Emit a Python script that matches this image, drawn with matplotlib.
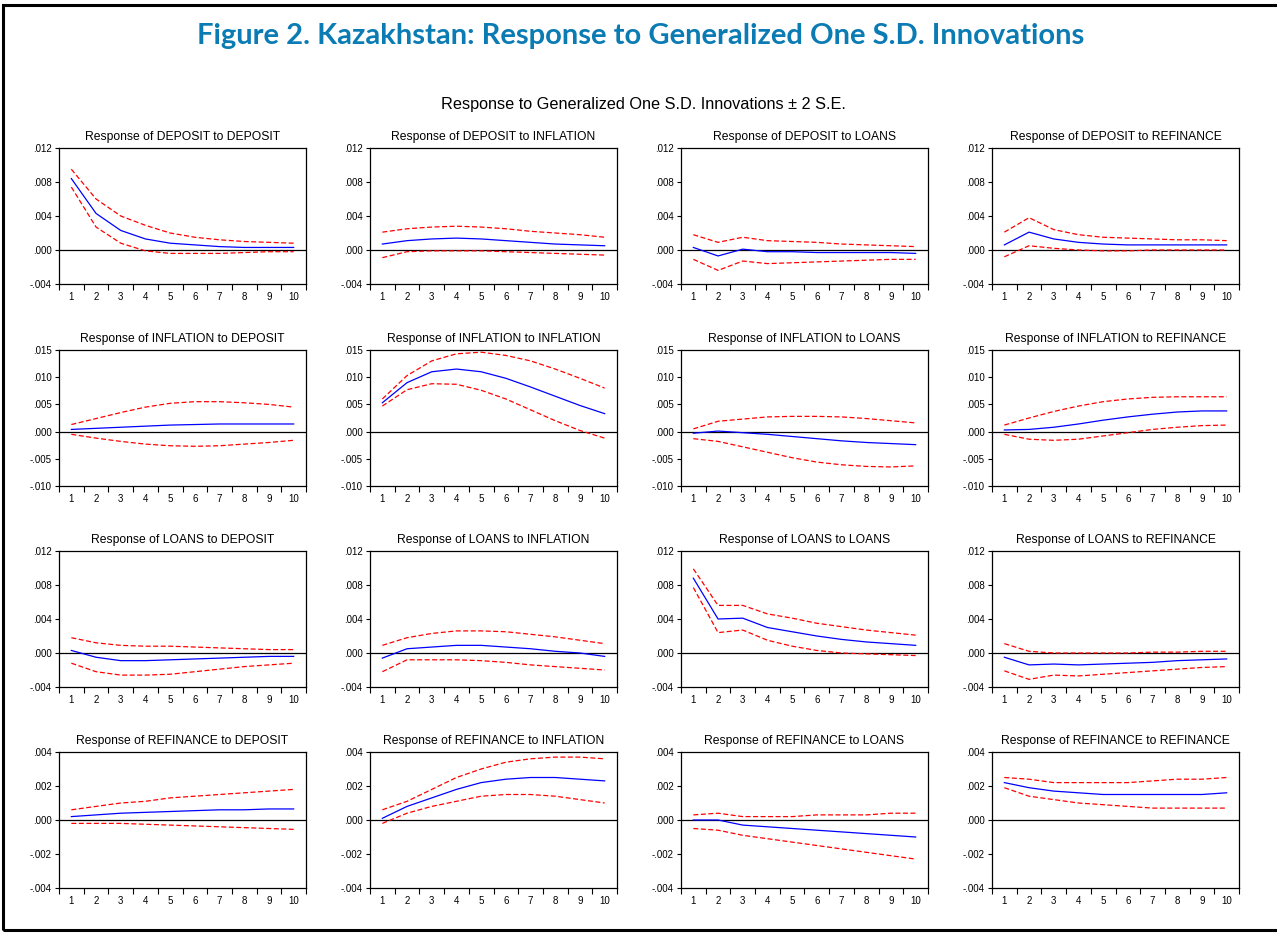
import matplotlib
matplotlib.use("Agg")
import matplotlib.pyplot as plt
from matplotlib.patches import Rectangle
from matplotlib.ticker import FuncFormatter, FixedLocator

# --------------------------------------------------------------------------
# Impulse responses (periods 1..10): point estimate and +/- 2 S.E. bands
# --------------------------------------------------------------------------
periods = [1, 2, 3, 4, 5, 6, 7, 8, 9, 10]
variables = ["DEPOSIT", "INFLATION", "LOANS", "REFINANCE"]

# y-axis range and tick step for each responding variable (row)
row_limits = {
    "DEPOSIT": (-0.004, 0.012, 0.004),
    "INFLATION": (-0.010, 0.015, 0.005),
    "LOANS": (-0.004, 0.012, 0.004),
    "REFINANCE": (-0.004, 0.004, 0.002),
}

# DEPOSIT responses
dep_dep = [0.0084, 0.0043, 0.0023, 0.0013, 0.0008, 0.0006, 0.0004, 0.0003, 0.0003, 0.0003]
dep_dep_hi = [0.0095, 0.0060, 0.0040, 0.0029, 0.0020, 0.0015, 0.0012, 0.0010, 0.0009, 0.0008]
dep_dep_lo = [0.0074, 0.0027, 0.0008, -0.0001, -0.0004, -0.0004, -0.0004, -0.0003, -0.0002, -0.0002]

dep_inf = [0.0007, 0.0011, 0.0013, 0.0014, 0.0013, 0.0011, 0.0009, 0.0007, 0.0006, 0.0005]
dep_inf_hi = [0.0021, 0.0025, 0.0027, 0.0028, 0.0027, 0.0025, 0.0022, 0.0020, 0.0018, 0.0015]
dep_inf_lo = [-0.0009, -0.0002, -0.0001, -0.0001, -0.0001, -0.0002, -0.0003, -0.0004, -0.0005, -0.0006]

dep_loa = [0.0003, -0.0007, 0.0001, -0.0002, -0.0002, -0.0003, -0.0003, -0.0003, -0.0003, -0.0004]
dep_loa_hi = [0.0018, 0.0009, 0.0015, 0.0011, 0.0010, 0.0009, 0.0007, 0.0006, 0.0005, 0.0004]
dep_loa_lo = [-0.0011, -0.0024, -0.0013, -0.0016, -0.0015, -0.0014, -0.0013, -0.0012, -0.0011, -0.0011]

dep_ref = [0.0006, 0.0021, 0.0013, 0.0009, 0.0007, 0.0006, 0.0006, 0.0006, 0.0006, 0.0006]
dep_ref_hi = [0.0021, 0.0038, 0.0024, 0.0018, 0.0015, 0.0014, 0.0013, 0.0012, 0.0012, 0.0011]
dep_ref_lo = [-0.0008, 0.0005, 0.0002, 0.0000, -0.0001, -0.0001, 0.0000, 0.0000, 0.0000, 0.0000]

# INFLATION responses
inf_dep = [0.0004, 0.0006, 0.0008, 0.0010, 0.0012, 0.0013, 0.0014, 0.0014, 0.0014, 0.0014]
inf_dep_hi = [0.0013, 0.0024, 0.0035, 0.0045, 0.0052, 0.0055, 0.0055, 0.0053, 0.0050, 0.0045]
inf_dep_lo = [-0.0005, -0.0012, -0.0018, -0.0023, -0.0026, -0.0027, -0.0026, -0.0023, -0.0020, -0.0016]

inf_inf = [0.0053, 0.0090, 0.0110, 0.0115, 0.0110, 0.0098, 0.0082, 0.0065, 0.0048, 0.0033]
inf_inf_hi = [0.0060, 0.0103, 0.0130, 0.0143, 0.0146, 0.0140, 0.0130, 0.0115, 0.0098, 0.0080]
inf_inf_lo = [0.0047, 0.0077, 0.0088, 0.0087, 0.0076, 0.0060, 0.0040, 0.0020, 0.0002, -0.0012]

inf_loa = [-0.0003, 0.0001, -0.0002, -0.0005, -0.0009, -0.0013, -0.0017, -0.0020, -0.0022, -0.0024]
inf_loa_hi = [0.0005, 0.0019, 0.0023, 0.0027, 0.0028, 0.0028, 0.0027, 0.0024, 0.0020, 0.0016]
inf_loa_lo = [-0.0013, -0.0018, -0.0028, -0.0038, -0.0048, -0.0056, -0.0061, -0.0064, -0.0065, -0.0063]

inf_ref = [0.0003, 0.0004, 0.0008, 0.0014, 0.0021, 0.0027, 0.0032, 0.0036, 0.0038, 0.0038]
inf_ref_hi = [0.0012, 0.0025, 0.0037, 0.0047, 0.0055, 0.0060, 0.0063, 0.0064, 0.0064, 0.0064]
inf_ref_lo = [-0.0005, -0.0014, -0.0016, -0.0014, -0.0008, -0.0002, 0.0004, 0.0008, 0.0011, 0.0012]

# LOANS responses
loa_dep = [0.0003, -0.0005, -0.0009, -0.0009, -0.0008, -0.0007, -0.0006, -0.0005, -0.0004, -0.0004]
loa_dep_hi = [0.0018, 0.0012, 0.0009, 0.0008, 0.0008, 0.0007, 0.0006, 0.0005, 0.0004, 0.0004]
loa_dep_lo = [-0.0012, -0.0022, -0.0026, -0.0026, -0.0025, -0.0022, -0.0019, -0.0016, -0.0014, -0.0012]

loa_inf = [-0.0006, 0.0005, 0.0007, 0.0009, 0.0009, 0.0007, 0.0005, 0.0002, 0.0000, -0.0004]
loa_inf_hi = [0.0009, 0.0018, 0.0023, 0.0026, 0.0026, 0.0025, 0.0022, 0.0019, 0.0015, 0.0011]
loa_inf_lo = [-0.0022, -0.0008, -0.0008, -0.0008, -0.0009, -0.0011, -0.0014, -0.0016, -0.0018, -0.0020]

loa_loa = [0.0088, 0.0040, 0.0041, 0.0030, 0.0025, 0.0020, 0.0016, 0.0013, 0.0011, 0.0009]
loa_loa_hi = [0.0099, 0.0056, 0.0056, 0.0046, 0.0041, 0.0035, 0.0031, 0.0027, 0.0024, 0.0021]
loa_loa_lo = [0.0077, 0.0024, 0.0027, 0.0015, 0.0008, 0.0003, 0.0000, -0.0001, -0.0002, -0.0003]

loa_ref = [-0.0005, -0.0014, -0.0013, -0.0014, -0.0013, -0.0012, -0.0011, -0.0009, -0.0008, -0.0007]
loa_ref_hi = [0.0011, 0.0002, 0.0000, 0.0000, 0.0000, 0.0000, 0.0001, 0.0001, 0.0002, 0.0002]
loa_ref_lo = [-0.0021, -0.0031, -0.0026, -0.0027, -0.0025, -0.0023, -0.0021, -0.0019, -0.0017, -0.0016]

# REFINANCE responses
ref_dep = [0.0002, 0.0003, 0.0004, 0.00045, 0.0005, 0.00055, 0.0006, 0.0006, 0.00065, 0.00065]
ref_dep_hi = [0.0006, 0.0008, 0.0010, 0.0011, 0.0013, 0.0014, 0.0015, 0.0016, 0.0017, 0.0018]
ref_dep_lo = [-0.0002, -0.0002, -0.0002, -0.00025, -0.0003, -0.00035, -0.0004, -0.00045, -0.0005, -0.00055]

ref_inf = [0.0001, 0.0008, 0.0013, 0.0018, 0.0022, 0.0024, 0.0025, 0.0025, 0.0024, 0.0023]
ref_inf_hi = [0.0006, 0.0011, 0.0018, 0.0025, 0.0030, 0.0034, 0.0036, 0.0037, 0.0037, 0.0036]
ref_inf_lo = [-0.0002, 0.0004, 0.0008, 0.0011, 0.0014, 0.0015, 0.0015, 0.0014, 0.0012, 0.0010]

ref_loa = [0.0000, 0.0000, -0.0003, -0.0004, -0.0005, -0.0006, -0.0007, -0.0008, -0.0009, -0.0010]
ref_loa_hi = [0.0003, 0.0004, 0.0002, 0.0002, 0.0002, 0.0003, 0.0003, 0.0003, 0.0004, 0.0004]
ref_loa_lo = [-0.0005, -0.0006, -0.0009, -0.0011, -0.0013, -0.0015, -0.0017, -0.0019, -0.0021, -0.0023]

ref_ref = [0.0022, 0.0019, 0.0017, 0.0016, 0.0015, 0.0015, 0.0015, 0.0015, 0.0015, 0.0016]
ref_ref_hi = [0.0025, 0.0024, 0.0022, 0.0022, 0.0022, 0.0022, 0.0023, 0.0024, 0.0024, 0.0025]
ref_ref_lo = [0.0019, 0.0014, 0.0012, 0.0010, 0.0009, 0.0008, 0.0007, 0.0007, 0.0007, 0.0007]

responses = [
    [(dep_dep, dep_dep_hi, dep_dep_lo), (dep_inf, dep_inf_hi, dep_inf_lo),
     (dep_loa, dep_loa_hi, dep_loa_lo), (dep_ref, dep_ref_hi, dep_ref_lo)],
    [(inf_dep, inf_dep_hi, inf_dep_lo), (inf_inf, inf_inf_hi, inf_inf_lo),
     (inf_loa, inf_loa_hi, inf_loa_lo), (inf_ref, inf_ref_hi, inf_ref_lo)],
    [(loa_dep, loa_dep_hi, loa_dep_lo), (loa_inf, loa_inf_hi, loa_inf_lo),
     (loa_loa, loa_loa_hi, loa_loa_lo), (loa_ref, loa_ref_hi, loa_ref_lo)],
    [(ref_dep, ref_dep_hi, ref_dep_lo), (ref_inf, ref_inf_hi, ref_inf_lo),
     (ref_loa, ref_loa_hi, ref_loa_lo), (ref_ref, ref_ref_hi, ref_ref_lo)],
]

# --------------------------------------------------------------------------
# Layout (pixel positions of each panel inside a 1277 x 933 canvas)
# --------------------------------------------------------------------------
W, H = 1277, 933
col_left = [59, 370, 681, 992]
panel_w = 247
row_top = [148, 350, 551, 752]
panel_h = 136

TITLE_BLUE = "#0a7bb3"


def eviews_fmt(value, _pos):
    text = f"{value:.3f}"
    return text.replace("0.", ".", 1)


plt.rcParams["font.family"] = ["Liberation Sans", "DejaVu Sans"]

fig = plt.figure(figsize=(W / 100, H / 100), dpi=100)
fig.patch.set_facecolor("white")

# outer frame (right edge runs off the page)
fig.add_artist(Rectangle((3 / W, 3 / H), (W + 10) / W, (H - 8) / H,
                         transform=fig.transFigure, fill=False,
                         edgecolor="black", linewidth=2.2, clip_on=False))

fig.text(0.502, 1 - 36 / H, "Figure 2. Kazakhstan: Response to Generalized One S.D. Innovations",
         ha="center", va="center", fontsize=21, fontweight="bold",
         color=TITLE_BLUE, family=["Lato", "DejaVu Sans"])
fig.text(0.504, 1 - 105 / H, "Response to Generalized One S.D. Innovations \u00b1 2 S.E.",
         ha="center", va="center", fontsize=11.7)

for r, resp_var in enumerate(variables):
    lo_lim, hi_lim, step = row_limits[resp_var]
    for c, shock_var in enumerate(variables):
        mid, upper, lower = responses[r][c]
        left = col_left[c] / W
        bottom = 1 - (row_top[r] + panel_h) / H
        ax = fig.add_axes([left, bottom, panel_w / W, panel_h / H])

        ax.axhline(0, color="black", linewidth=0.9, zorder=1)
        ax.plot(periods, upper, color="red", linestyle=(0, (4, 2)), linewidth=0.9, zorder=2)
        ax.plot(periods, lower, color="red", linestyle=(0, (4, 2)), linewidth=0.9, zorder=2)
        ax.plot(periods, mid, color="blue", linewidth=0.9, zorder=3)

        ax.set_xlim(0.5, 10.5)
        ax.set_ylim(lo_lim, hi_lim)

        n_ticks = int(round((hi_lim - lo_lim) / step)) + 1
        ax.yaxis.set_major_locator(FixedLocator([lo_lim + i * step for i in range(n_ticks)]))
        ax.yaxis.set_major_formatter(FuncFormatter(eviews_fmt))

        # labels sit under each period, tick marks at the period boundaries
        ax.set_xticks(periods)
        ax.set_xticks([p + 0.5 for p in [0] + periods], minor=True)
        ax.tick_params(axis="x", which="major", length=0, pad=6, labelsize=7)
        ax.tick_params(axis="x", which="minor", length=4, width=0.8, direction="out")
        ax.tick_params(axis="y", which="major", length=3, width=0.8, direction="out",
                       pad=2, labelsize=7)

        for spine in ax.spines.values():
            spine.set_linewidth(0.9)

        ax.set_title(f"Response of {resp_var} to {shock_var}", fontsize=8.7, pad=6)

fig.savefig("out.png", dpi=100, facecolor="white")
